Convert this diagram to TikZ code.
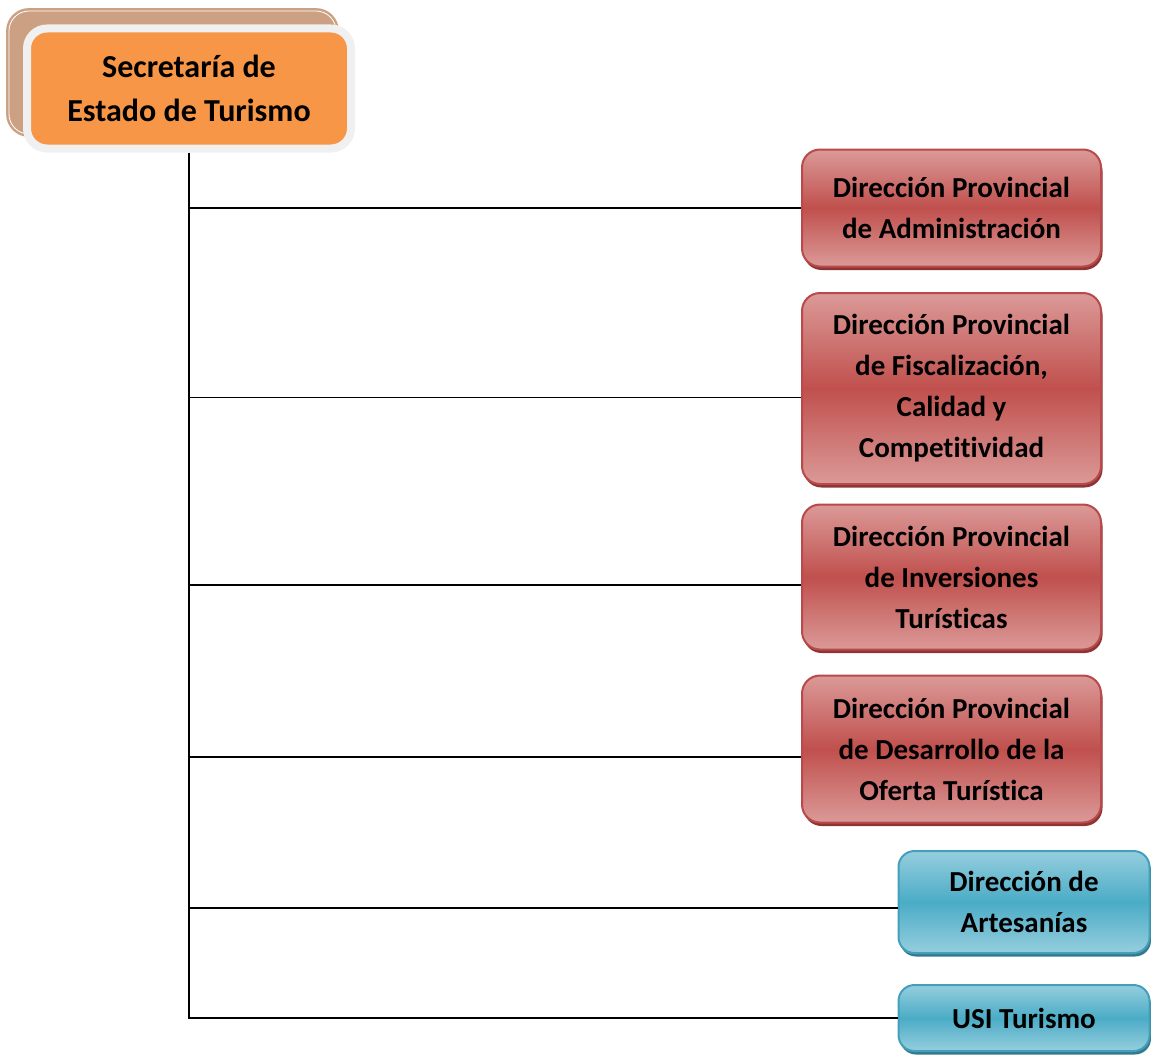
\documentclass[tikz,border=0pt]{standalone}
\usepackage{fontspec}
\setmainfont{Carlito}[Ligatures=NoCommon]
\usetikzlibrary{shadows}
\definecolor{secfill}{HTML}{F79646}
\definecolor{secrim}{HTML}{F0F0F0}
\definecolor{secback}{HTML}{CCA183}
\definecolor{redmid}{HTML}{C0504D}
\definecolor{redlight}{HTML}{DB9A98}
\definecolor{redline}{HTML}{B9494A}
\definecolor{reddark}{HTML}{8C3533}
\definecolor{bluemid}{HTML}{4BACC6}
\definecolor{bluelight}{HTML}{95CEDE}
\definecolor{blueline}{HTML}{44A0BA}
\definecolor{bluedark}{HTML}{347A8E}

\begin{document}
\begin{tikzpicture}[x=1pt,y=-1pt,
	every node/.style={font=\fontsize{29}{41}\selectfont\bfseries, align=center, inner sep=0pt},
	backbox/.style={rounded corners=20pt, fill=secback, draw=secback, line width=2.5pt, double=white, double distance=0.8pt},
	secbox/.style={rounded corners=20pt, fill=secfill, draw=secrim, line width=8pt, font=\fontsize{32}{44}\selectfont\bfseries},
	dirbox/.style={rounded corners=18pt, draw=redline, line width=2pt, top color=redlight, bottom color=redlight, middle color=redmid,
		drop shadow={shadow xshift=1.5pt, shadow yshift=-3.5pt, fill=reddark, opacity=1}, minimum width=299},
	unitbox/.style={rounded corners=16pt, draw=blueline, line width=2pt, top color=bluelight, bottom color=bluelight, middle color=bluemid,
		drop shadow={shadow xshift=1.5pt, shadow yshift=-3.5pt, fill=bluedark, opacity=1}, minimum width=251},
	conn/.style={line width=1.6pt, black}]
	\useasboundingbox (0,0) rectangle (1151,1057);
	
	% secretaria
	\node[backbox, minimum width=327, minimum height=123] (secb) at (172.5,72.5) {};
	\node[secbox, minimum width=324, minimum height=120] (sec) at (189,88.5) {Secretaría de\\Estado de Turismo};
	
	% direcciones provinciales
	\node[dirbox, minimum height=117] (adm) at (951.5,208) {Dirección Provincial\\de Administración};
	\node[dirbox, minimum height=191] (fis) at (951.5,388.5) {Dirección Provincial\\de Fiscalización,\\Calidad y\\Competitividad};
	\node[dirbox, minimum height=145] (inv) at (951.5,577) {Dirección Provincial\\de Inversiones\\Turísticas};
	\node[dirbox, minimum height=147] (des) at (951.5,749) {Dirección Provincial\\de Desarrollo de la\\Oferta Turística};
	
	% otras unidades
	\node[unitbox, minimum height=102] (art) at (1024,902) {Dirección de\\Artesanías};
	\node[unitbox, minimum height=66] (usi) at (1024,1018) {USI Turismo};
	
	% lines
	\draw[conn] (sec.south) -- (sec.south |- usi.west) -- (usi.west);
	\draw[conn] (sec.south |- adm.west) -- (adm.west);
	\draw[conn] ([yshift=-9pt]sec.south |- fis.west) -- ([yshift=-9pt]fis.west);
	\draw[conn] ([yshift=-8pt]sec.south |- inv.west) -- ([yshift=-8pt]inv.west);
	\draw[conn] ([yshift=-8pt]sec.south |- des.west) -- ([yshift=-8pt]des.west);
	\draw[conn] ([yshift=-6pt]sec.south |- art.west) -- ([yshift=-6pt]art.west);
\end{tikzpicture}
\end{document}
